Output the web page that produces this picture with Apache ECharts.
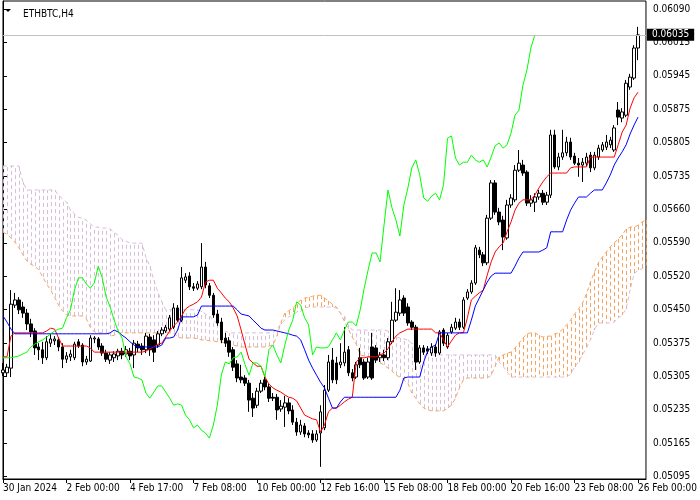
<!DOCTYPE html>
<html>
<head>
<meta charset="utf-8">
<script src="https://cdn.jsdelivr.net/npm/echarts@6/dist/echarts.min.js"></script>
<style>
  html, body { margin: 0; padding: 0; background: #fff; }
  #chart { width: 700px; height: 500px; }
</style>
</head>
<body>
<div id="chart"></div>
<script>
// ETHBTC H4 bars, 30 Jan - 26 Feb 2024
var openP = [
  0.05316,0.05316,0.05326,0.05460,0.05471,0.05456,0.05443,0.05420,0.05405,0.05371,
  0.05365,0.05348,0.05379,0.05384,0.05386,0.05371,0.05345,0.05350,0.05348,0.05382,
  0.05375,0.05339,0.05341,0.05388,0.05388,0.05373,0.05358,0.05343,0.05348,0.05352,
  0.05362,0.05356,0.05362,0.05354,0.05377,0.05373,0.05365,0.05392,0.05386,0.05375,
  0.05399,0.05405,0.05409,0.05413,0.05454,0.05428,0.05513,0.05522,0.05499,0.05496,
  0.05499,0.05541,0.05501,0.05481,0.05441,0.05424,0.05390,0.05384,0.05365,0.05335,
  0.05307,0.05305,0.05294,0.05262,0.05247,0.05277,0.05301,0.05286,0.05264,0.05264,
  0.05239,0.05243,0.05252,0.05237,0.05211,0.05190,0.05203,0.05188,0.05186,0.05173,
  0.05188,0.05199,0.05279,0.05343,0.05337,0.05333,0.05337,0.05365,0.05316,0.05307,
  0.05348,0.05339,0.05307,0.05371,0.05369,0.05348,0.05354,0.05348,0.05382,0.05428,
  0.05443,0.05475,0.05456,0.05424,0.05413,0.05339,0.05369,0.05367,0.05358,0.05371,
  0.05358,0.05407,0.05371,0.05403,0.05411,0.05424,0.05413,0.05475,0.05488,0.05507,
  0.05577,0.05567,0.05550,0.05645,0.05720,0.05658,0.05641,0.05603,0.05673,0.05684,
  0.05747,0.05758,0.05743,0.05677,0.05679,0.05690,0.05698,0.05679,0.05694,0.05822,
  0.05754,0.05775,0.05784,0.05807,0.05777,0.05762,0.05758,0.05762,0.05779,0.05752,
  0.05775,0.05790,0.05796,0.05801,0.05790,0.05875,0.05858,0.05864,0.05924,0.05943,0.06007
];
var closeP = [
  0.05322,0.05328,0.05462,0.05471,0.05450,0.05443,0.05420,0.05403,0.05369,0.05365,
  0.05348,0.05382,0.05388,0.05388,0.05371,0.05345,0.05352,0.05356,0.05377,0.05373,
  0.05339,0.05345,0.05390,0.05390,0.05371,0.05358,0.05345,0.05354,0.05356,0.05362,
  0.05354,0.05365,0.05352,0.05379,0.05369,0.05365,0.05394,0.05365,0.05360,0.05399,
  0.05407,0.05413,0.05433,0.05454,0.05428,0.05518,0.05520,0.05499,0.05496,0.05505,
  0.05541,0.05503,0.05481,0.05439,0.05422,0.05386,0.05379,0.05360,0.05328,0.05305,
  0.05301,0.05294,0.05258,0.05241,0.05277,0.05294,0.05286,0.05262,0.05262,0.05237,
  0.05245,0.05252,0.05235,0.05211,0.05190,0.05205,0.05186,0.05184,0.05173,0.05186,
  0.05233,0.05279,0.05339,0.05301,0.05301,0.05339,0.05360,0.05316,0.05305,0.05333,
  0.05333,0.05305,0.05339,0.05305,0.05343,0.05354,0.05348,0.05382,0.05428,0.05445,
  0.05471,0.05443,0.05422,0.05413,0.05339,0.05369,0.05360,0.05362,0.05371,0.05358,
  0.05403,0.05379,0.05396,0.05413,0.05424,0.05413,0.05471,0.05488,0.05507,0.05582,
  0.05567,0.05550,0.05645,0.05720,0.05658,0.05637,0.05605,0.05673,0.05688,0.05747,
  0.05762,0.05741,0.05677,0.05684,0.05690,0.05698,0.05679,0.05694,0.05822,0.05754,
  0.05775,0.05784,0.05807,0.05775,0.05762,0.05758,0.05764,0.05775,0.05752,0.05779,
  0.05794,0.05801,0.05807,0.05811,0.05837,0.05860,0.05871,0.05932,0.05945,0.06007,0.06035
];
var lowP = [
  0.05309,0.05307,0.05307,0.05454,0.05441,0.05433,0.05407,0.05392,0.05354,0.05343,
  0.05335,0.05343,0.05371,0.05375,0.05362,0.05326,0.05337,0.05341,0.05343,0.05369,
  0.05330,0.05333,0.05339,0.05379,0.05365,0.05352,0.05339,0.05335,0.05339,0.05343,
  0.05345,0.05350,0.05343,0.05326,0.05360,0.05354,0.05358,0.05352,0.05339,0.05369,
  0.05394,0.05401,0.05405,0.05409,0.05424,0.05424,0.05507,0.05492,0.05490,0.05492,
  0.05494,0.05496,0.05475,0.05433,0.05416,0.05379,0.05371,0.05350,0.05320,0.05296,
  0.05294,0.05288,0.05233,0.05222,0.05241,0.05273,0.05279,0.05254,0.05256,0.05216,
  0.05233,0.05201,0.05228,0.05205,0.05182,0.05184,0.05179,0.05177,0.05167,0.05169,
  0.05116,0.05194,0.05275,0.05294,0.05292,0.05326,0.05330,0.05309,0.05298,0.05303,
  0.05326,0.05301,0.05303,0.05301,0.05337,0.05339,0.05341,0.05343,0.05377,0.05424,
  0.05437,0.05437,0.05416,0.05407,0.05322,0.05335,0.05354,0.05356,0.05352,0.05350,
  0.05354,0.05373,0.05367,0.05399,0.05407,0.05407,0.05409,0.05471,0.05484,0.05503,
  0.05560,0.05543,0.05545,0.05641,0.05652,0.05630,0.05577,0.05599,0.05667,0.05679,
  0.05743,0.05735,0.05671,0.05669,0.05658,0.05684,0.05673,0.05673,0.05688,0.05750,
  0.05747,0.05769,0.05777,0.05769,0.05758,0.05733,0.05722,0.05756,0.05743,0.05747,
  0.05769,0.05786,0.05790,0.05794,0.05786,0.05843,0.05849,0.05860,0.05918,0.05939,0.05981
];
var highP = [
  0.05337,0.05335,0.05492,0.05486,0.05477,0.05467,0.05452,0.05431,0.05411,0.05379,
  0.05382,0.05394,0.05399,0.05394,0.05392,0.05379,0.05360,0.05365,0.05382,0.05388,
  0.05379,0.05352,0.05396,0.05394,0.05392,0.05379,0.05365,0.05360,0.05362,0.05367,
  0.05369,0.05373,0.05369,0.05386,0.05384,0.05379,0.05401,0.05399,0.05396,0.05405,
  0.05413,0.05418,0.05439,0.05464,0.05460,0.05541,0.05528,0.05530,0.05507,0.05511,
  0.05592,0.05552,0.05507,0.05486,0.05450,0.05433,0.05401,0.05392,0.05371,0.05343,
  0.05333,0.05311,0.05301,0.05273,0.05284,0.05301,0.05309,0.05292,0.05273,0.05271,
  0.05258,0.05267,0.05262,0.05247,0.05220,0.05216,0.05209,0.05194,0.05194,0.05194,
  0.05247,0.05290,0.05354,0.05369,0.05350,0.05379,0.05413,0.05373,0.05324,0.05339,
  0.05369,0.05345,0.05348,0.05401,0.05375,0.05360,0.05365,0.05390,0.05467,0.05496,
  0.05492,0.05481,0.05464,0.05428,0.05418,0.05375,0.05375,0.05373,0.05379,0.05377,
  0.05407,0.05411,0.05401,0.05420,0.05433,0.05431,0.05477,0.05494,0.05513,0.05588,
  0.05584,0.05573,0.05652,0.05726,0.05726,0.05667,0.05650,0.05684,0.05696,0.05758,
  0.05790,0.05769,0.05747,0.05694,0.05698,0.05705,0.05705,0.05701,0.05833,0.05833,
  0.05784,0.05833,0.05818,0.05816,0.05784,0.05773,0.05773,0.05784,0.05786,0.05786,
  0.05801,0.05807,0.05822,0.05818,0.05843,0.05892,0.05879,0.05939,0.05952,0.06013,0.06052
];

// Ichimoku lines
var tenkan = [
  0.05350,0.05350,0.05394,0.05401,0.05401,0.05401,0.05401,0.05401,0.05401,0.05401,
  0.05401,0.05405,0.05411,0.05409,0.05390,0.05373,0.05373,0.05373,0.05373,0.05373,
  0.05373,0.05373,0.05369,0.05360,0.05360,0.05360,0.05360,0.05360,0.05360,0.05360,
  0.05360,0.05360,0.05360,0.05360,0.05360,0.05360,0.05362,0.05367,0.05371,0.05377,
  0.05379,0.05392,0.05405,0.05416,0.05424,0.05437,0.05452,0.05458,0.05462,0.05467,
  0.05477,0.05509,0.05513,0.05513,0.05496,0.05486,0.05475,0.05467,0.05454,0.05437,
  0.05407,0.05375,0.05345,0.05337,0.05330,0.05330,0.05307,0.05292,0.05284,0.05279,
  0.05275,0.05269,0.05264,0.05262,0.05256,0.05241,0.05226,0.05222,0.05218,0.05216,
  0.05190,0.05205,0.05233,0.05241,0.05241,0.05247,0.05254,0.05260,0.05264,0.05339,
  0.05348,0.05348,0.05350,0.05350,0.05350,0.05354,0.05358,0.05367,0.05382,0.05394,
  0.05401,0.05405,0.05409,0.05409,0.05409,0.05409,0.05409,0.05409,0.05409,0.05401,
  0.05401,0.05386,0.05371,0.05384,0.05396,0.05401,0.05401,0.05433,0.05471,0.05479,
  0.05486,0.05492,0.05524,0.05552,0.05573,0.05584,0.05592,0.05616,0.05637,0.05662,
  0.05677,0.05684,0.05684,0.05684,0.05694,0.05709,0.05722,0.05733,0.05741,0.05741,
  0.05741,0.05741,0.05741,0.05752,0.05754,0.05754,0.05754,0.05754,0.05775,0.05775,
  0.05775,0.05775,0.05775,0.05775,0.05775,0.05801,0.05828,0.05843,0.05879,0.05901,0.05913
];
var kijun = [
  0.05437,0.05424,0.05409,0.05399,0.05399,0.05399,0.05399,0.05399,0.05399,0.05399,
  0.05399,0.05399,0.05399,0.05399,0.05399,0.05399,0.05399,0.05399,0.05399,0.05399,
  0.05399,0.05399,0.05399,0.05399,0.05399,0.05399,0.05399,0.05401,0.05407,0.05403,
  0.05396,0.05390,0.05382,0.05375,0.05371,0.05371,0.05371,0.05371,0.05371,0.05371,
  0.05375,0.05390,0.05390,0.05392,0.05407,0.05435,0.05435,0.05435,0.05435,0.05439,
  0.05458,0.05458,0.05458,0.05458,0.05458,0.05458,0.05458,0.05458,0.05458,0.05450,
  0.05441,0.05439,0.05437,0.05428,0.05420,0.05411,0.05407,0.05407,0.05407,0.05405,
  0.05403,0.05401,0.05399,0.05396,0.05394,0.05386,0.05365,0.05343,0.05326,0.05311,
  0.05296,0.05284,0.05262,0.05241,0.05241,0.05254,0.05264,0.05264,0.05264,0.05264,
  0.05264,0.05264,0.05264,0.05264,0.05264,0.05264,0.05264,0.05264,0.05264,0.05264,
  0.05279,0.05305,0.05307,0.05307,0.05307,0.05307,0.05339,0.05362,0.05371,0.05375,
  0.05401,0.05401,0.05401,0.05401,0.05401,0.05401,0.05401,0.05401,0.05428,0.05458,
  0.05475,0.05492,0.05509,0.05522,0.05528,0.05528,0.05528,0.05528,0.05528,0.05543,
  0.05560,0.05573,0.05573,0.05573,0.05573,0.05573,0.05577,0.05582,0.05616,0.05616,
  0.05616,0.05616,0.05641,0.05662,0.05677,0.05690,0.05690,0.05690,0.05698,0.05705,
  0.05705,0.05705,0.05720,0.05737,0.05758,0.05773,0.05786,0.05801,0.05824,0.05843,0.05860
];
var chikou = [
  0.05348,0.05348,0.05348,0.05350,0.05352,0.05356,0.05360,0.05371,0.05377,0.05382,
  0.05386,0.05392,0.05399,0.05405,0.05409,0.05411,0.05433,0.05450,0.05492,0.05518,
  0.05518,0.05505,0.05496,0.05507,0.05543,0.05518,0.05477,0.05456,0.05428,0.05405,
  0.05390,0.05350,0.05335,0.05307,0.05305,0.05301,0.05273,0.05262,0.05275,0.05288,
  0.05288,0.05275,0.05262,0.05247,0.05250,0.05247,0.05226,0.05216,0.05199,0.05205,
  0.05194,0.05188,0.05177,0.05205,0.05247,0.05311,0.05339,0.05335,0.05348,0.05350,
  0.05360,0.05333,0.05311,0.05337,0.05337,0.05330,0.05307,0.05365,0.05375,0.05354,
  0.05337,0.05375,0.05407,0.05428,0.05467,0.05460,0.05433,0.05418,0.05354,0.05371,
  0.05369,0.05369,0.05371,0.05386,0.05401,0.05386,0.05407,0.05424,0.05424,0.05416,
  0.05450,0.05496,0.05535,0.05571,0.05571,0.05552,0.05630,0.05705,0.05667,0.05641,
  0.05607,0.05673,0.05709,0.05752,0.05769,0.05737,0.05688,0.05681,0.05692,0.05698,
  0.05684,0.05716,0.05815,0.05820,0.05773,0.05758,0.05764,0.05764,0.05779,0.05769,
  0.05764,0.05769,0.05754,0.05775,0.05799,0.05805,0.05794,0.05801,0.05826,0.05864,
  0.05875,0.05928,0.05960,0.06007,0.06035
];
var spanA = [
  0.05615,0.05611,0.05603,0.05594,0.05582,0.05567,0.05554,0.05547,0.05543,0.05535,
  0.05520,0.05505,0.05492,0.05477,0.05460,0.05448,0.05439,0.05437,0.05437,0.05437,
  0.05437,0.05431,0.05413,0.05403,0.05401,0.05401,0.05401,0.05394,0.05396,0.05401,
  0.05401,0.05401,0.05401,0.05401,0.05401,0.05401,0.05401,0.05401,0.05401,0.05401,
  0.05401,0.05401,0.05401,0.05401,0.05392,0.05390,0.05390,0.05390,0.05390,0.05388,
  0.05386,0.05386,0.05384,0.05384,0.05382,0.05382,0.05379,0.05379,0.05375,0.05373,
  0.05371,0.05371,0.05371,0.05371,0.05371,0.05371,0.05371,0.05373,0.05375,0.05394,
  0.05422,0.05443,0.05448,0.05454,0.05462,0.05471,0.05475,0.05477,0.05479,0.05481,
  0.05481,0.05475,0.05469,0.05462,0.05456,0.05443,0.05426,0.05409,0.05392,0.05377,
  0.05354,0.05352,0.05350,0.05348,0.05343,0.05337,0.05333,0.05326,0.05320,0.05311,
  0.05307,0.05301,0.05294,0.05273,0.05262,0.05250,0.05241,0.05237,0.05235,0.05235,
  0.05235,0.05235,0.05241,0.05247,0.05262,0.05284,0.05301,0.05305,0.05305,0.05305,
  0.05305,0.05305,0.05305,0.05311,0.05330,0.05350,0.05354,0.05358,0.05360,0.05369,
  0.05379,0.05390,0.05399,0.05401,0.05401,0.05396,0.05392,0.05394,0.05394,0.05399,
  0.05401,0.05409,0.05418,0.05428,0.05441,0.05452,0.05464,0.05484,0.05509,0.05530,
  0.05550,0.05562,0.05573,0.05584,0.05592,0.05601,0.05609,0.05622,0.05626,0.05626,
  0.05630,0.05637,0.05641
];
var spanB = [
  0.05756,0.05756,0.05756,0.05756,0.05756,0.05722,0.05705,0.05705,0.05705,0.05705,
  0.05705,0.05705,0.05705,0.05705,0.05694,0.05686,0.05679,0.05662,0.05654,0.05647,
  0.05645,0.05641,0.05633,0.05626,0.05626,0.05624,0.05624,0.05622,0.05615,0.05609,
  0.05599,0.05596,0.05592,0.05592,0.05592,0.05592,0.05562,0.05543,0.05513,0.05488,
  0.05467,0.05450,0.05450,0.05450,0.05450,0.05450,0.05450,0.05450,0.05450,0.05450,
  0.05447,0.05441,0.05437,0.05428,0.05420,0.05413,0.05405,0.05401,0.05401,0.05401,
  0.05401,0.05401,0.05401,0.05401,0.05401,0.05401,0.05401,0.05401,0.05401,0.05409,
  0.05420,0.05428,0.05435,0.05439,0.05445,0.05447,0.05454,0.05456,0.05456,0.05456,
  0.05456,0.05456,0.05456,0.05456,0.05454,0.05443,0.05437,0.05418,0.05407,0.05407,
  0.05407,0.05407,0.05407,0.05407,0.05407,0.05407,0.05407,0.05405,0.05399,0.05392,
  0.05390,0.05388,0.05386,0.05379,0.05375,0.05365,0.05354,0.05354,0.05354,0.05354,
  0.05354,0.05354,0.05354,0.05354,0.05354,0.05354,0.05354,0.05354,0.05354,0.05354,
  0.05354,0.05354,0.05354,0.05354,0.05354,0.05339,0.05330,0.05318,0.05307,0.05307,
  0.05307,0.05307,0.05307,0.05307,0.05307,0.05307,0.05307,0.05307,0.05307,0.05307,
  0.05307,0.05307,0.05307,0.05313,0.05328,0.05339,0.05354,0.05369,0.05386,0.05407,
  0.05422,0.05422,0.05422,0.05422,0.05424,0.05433,0.05439,0.05452,0.05492,0.05526,
  0.05535,0.05537,0.05545
];

var bidPrice = 0.06035;
var priceLabels = ['0.05095','0.05165','0.05235','0.05305','0.05375','0.05450','0.05520',
  '0.05590','0.05660','0.05735','0.05805','0.05875','0.05945','0.06015','0.06090'];
var timeLabels = ['30 Jan 2024','2 Feb 00:00','4 Feb 17:00','7 Feb 08:00','10 Feb 00:00',
  '12 Feb 16:00','15 Feb 08:00','18 Feb 00:00','20 Feb 16:00','23 Feb 08:00','26 Feb 00:00'];
var timeLabelBars = [0,16,32,48,64,80,96,112,128,144,160];

var font = 'DejaVu Sans Condensed, Liberation Sans, sans-serif';

// price grid lines sit at even steps between first and last label
var pFirst = parseFloat(priceLabels[0]);
var pLast = parseFloat(priceLabels[priceLabels.length - 1]);
var pStep = (pLast - pFirst) / (priceLabels.length - 1);
var priceTicks = priceLabels.map(function (s, k) { return pFirst + k * pStep; });

function pairs(arr) {
  return arr.map(function (v, i) { return [i, v]; });
}

var candles = openP.map(function (o, i) {
  return [i, o, closeP[i], lowP[i], highP[i]];
});
var cloud = spanA.map(function (a, i) { return [i, a, spanB[i]]; });

var myChart = echarts.init(document.getElementById('chart'));
var option = {
  animation: false,
  backgroundColor: '#ffffff',
  title: {
    text: 'ETHBTC,H4',
    left: 18,
    top: 4,
    textStyle: { fontSize: 10, fontWeight: 'normal', color: '#000', fontFamily: font }
  },
  graphic: [{
    type: 'polygon',
    shape: { points: [[5, 9], [11, 9], [8, 12]] },
    style: { fill: '#000' }
  }],
  grid: {
    left: 3, right: 49, top: 1, bottom: 21,
    show: true, borderColor: '#000', borderWidth: 1, backgroundColor: '#fff'
  },
  xAxis: {
    type: 'value',
    min: 0,
    max: 162,
    splitLine: { show: false },
    axisLine: { show: true, lineStyle: { color: '#000' } },
    axisTick: { show: true, length: 4, lineStyle: { color: '#000' }, customValues: timeLabelBars },
    axisLabel: {
      customValues: timeLabelBars,
      align: 'left',
      margin: 4,
      color: '#000',
      fontSize: 10,
      fontFamily: font,
      formatter: function (v) {
        var k = timeLabelBars.indexOf(Math.round(v));
        return k < 0 ? '' : timeLabels[k];
      }
    }
  },
  yAxis: {
    type: 'value',
    position: 'right',
    scale: true,
    min: 0.050901,
    max: 0.061070,
    splitLine: { show: false },
    axisLine: { show: true, lineStyle: { color: '#000' } },
    axisTick: { show: true, length: 4, lineStyle: { color: '#000' }, customValues: priceTicks },
    axisLabel: {
      customValues: priceTicks,
      margin: 7,
      color: '#000',
      fontSize: 10,
      fontFamily: font,
      formatter: function (v) {
        return priceLabels[Math.round((v - pFirst) / pStep)] || '';
      }
    }
  },
  series: [
    {
      // kumo hatching, one dotted stroke per bar
      name: 'cloud',
      type: 'custom',
      z: 1,
      silent: true,
      data: cloud,
      encode: { x: 0, y: [1, 2] },
      renderItem: function (params, api) {
        var a = api.value(1), b = api.value(2);
        var p1 = api.coord([api.value(0), a]);
        var p2 = api.coord([api.value(0), b]);
        var x = Math.round(p1[0]) + 0.5;
        return {
          type: 'line',
          shape: { x1: x, y1: p1[1], x2: x, y2: p2[1] },
          style: { stroke: a > b ? '#f4a460' : '#d8bfd8', lineWidth: 1, lineDash: [4, 3] }
        };
      }
    },
    {
      name: 'Senkou Span A', type: 'line', z: 2, silent: true, showSymbol: false,
      data: pairs(spanA),
      lineStyle: { color: '#f4a460', width: 1, type: [4, 3] }
    },
    {
      name: 'Senkou Span B', type: 'line', z: 2, silent: true, showSymbol: false,
      data: pairs(spanB),
      lineStyle: { color: '#d8bfd8', width: 1, type: [4, 3] }
    },
    {
      name: 'ETHBTC',
      type: 'candlestick',
      z: 3,
      silent: true,
      barWidth: 3,
      data: candles,
      encode: { x: 0, y: [1, 2, 3, 4] },
      itemStyle: {
        color: '#ffffff', color0: '#000000',
        borderColor: '#000000', borderColor0: '#000000', borderWidth: 1
      },
      markLine: {
        silent: true,
        precision: 5,
        symbol: ['none', 'none'],
        data: [{ yAxis: bidPrice }],
        lineStyle: { color: '#c0c0c0', type: 'solid', width: 1 },
        label: {
          show: true,
          position: 'end',
          distance: 1,
          formatter: function (p) { return Number(p.value).toFixed(5); },
          backgroundColor: '#000',
          color: '#fff',
          padding: [1, 5, 0, 5],
          lineHeight: 11,
          fontSize: 10,
          fontFamily: font
        }
      }
    },
    {
      name: 'Tenkan-sen', type: 'line', z: 4, silent: true, showSymbol: false,
      data: pairs(tenkan),
      lineStyle: { color: '#ff0000', width: 1 }
    },
    {
      name: 'Kijun-sen', type: 'line', z: 4, silent: true, showSymbol: false,
      data: pairs(kijun),
      lineStyle: { color: '#0000ff', width: 1 }
    },
    {
      name: 'Chikou Span', type: 'line', z: 4, silent: true, showSymbol: false,
      data: pairs(chikou),
      lineStyle: { color: '#00ff00', width: 1 }
    }
  ]
};
myChart.setOption(option);
</script>
</body>
</html>
